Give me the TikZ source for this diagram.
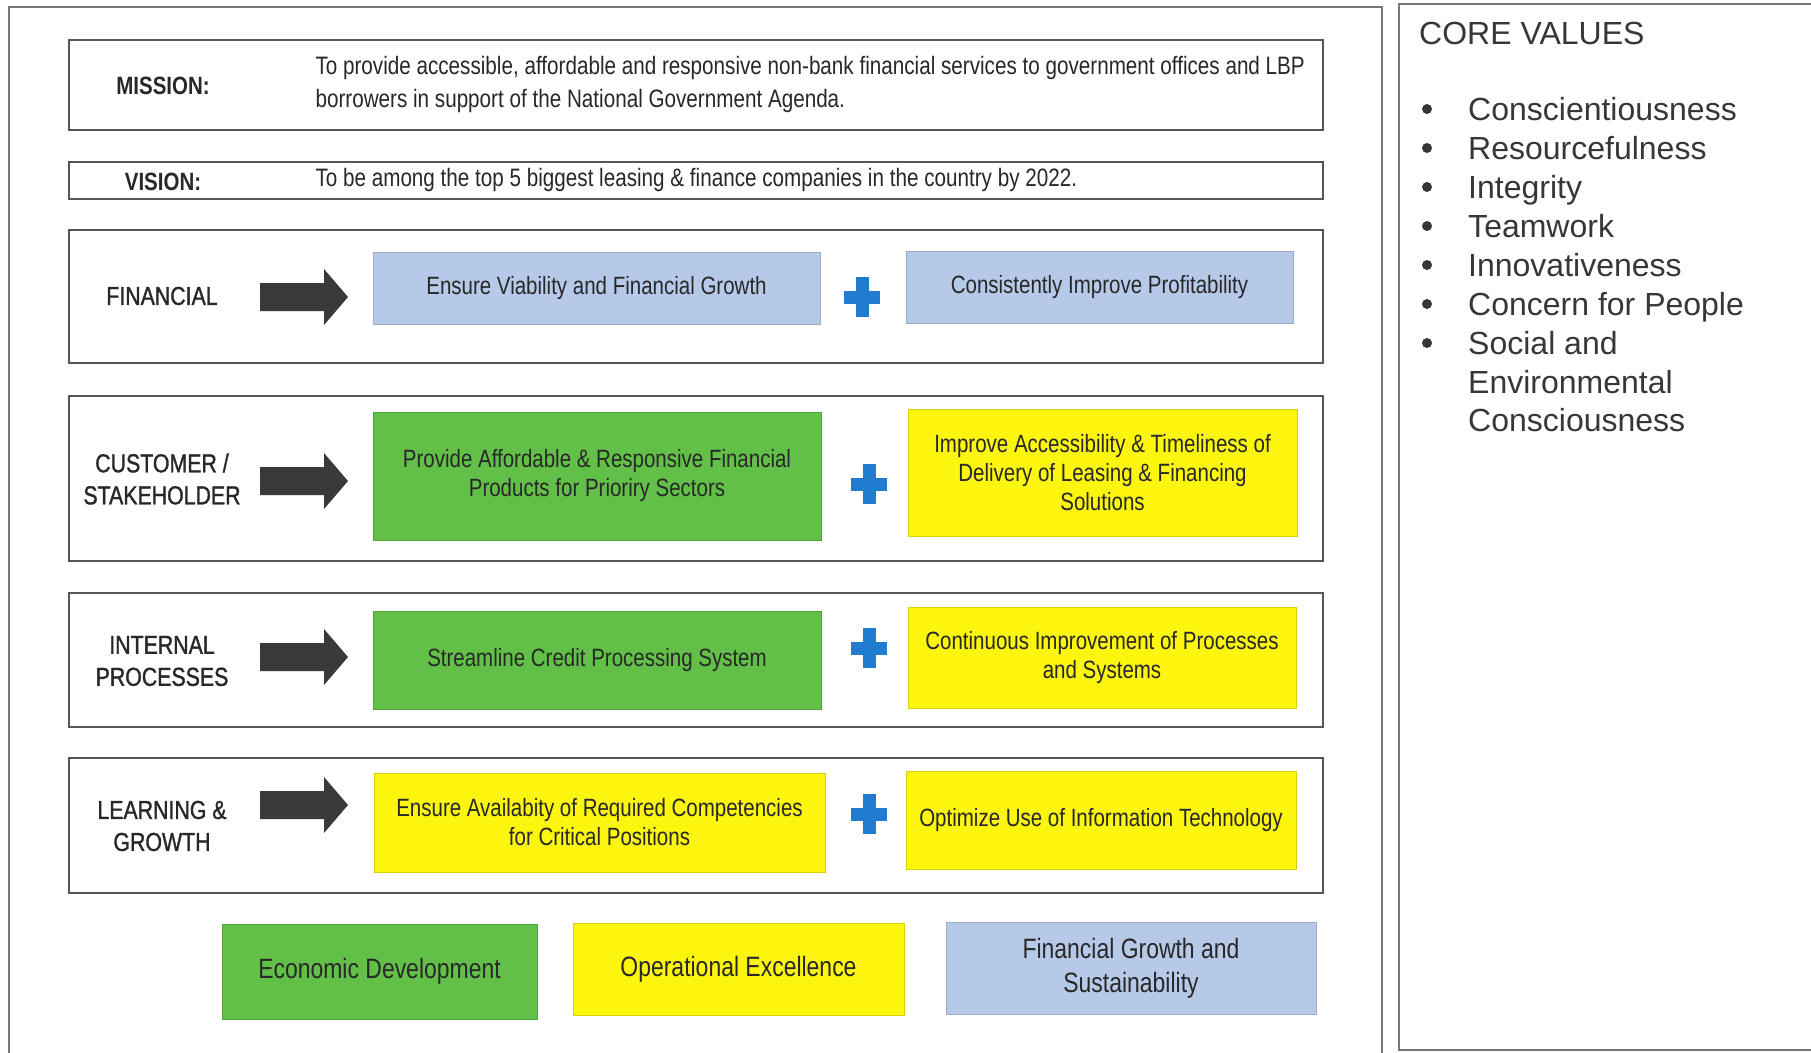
\documentclass[tikz,border=0pt]{standalone}
\usepackage{fontspec}
\setmainfont{Liberation Sans}
\newfontfamily\narrowsf[FakeStretch=0.82]{Liberation Sans}
\newfontfamily\narrowheavy[FakeStretch=0.82,FakeBold=1.2]{Liberation Sans}
\definecolor{lightblue}{RGB}{183,201,233}
\definecolor{goalgreen}{RGB}{98,192,72}
\definecolor{goalyellow}{RGB}{252,246,14}
\definecolor{plusblue}{RGB}{32,124,206}
\definecolor{arrowgray}{RGB}{58,58,58}
\definecolor{framegray}{RGB}{85,85,85}
\definecolor{inkgray}{RGB}{40,40,40}
\definecolor{valuegray}{RGB}{55,55,55}
\definecolor{panelgray}{RGB}{120,120,120}

\tikzset{
  rowframe/.style={draw=framegray, line width=1.6pt, fill=white, anchor=north west, inner sep=0pt, outer sep=0pt},
  goalbox/.style={draw=#1!85!black, line width=0.6pt, fill=#1, anchor=north west, inner sep=0pt, outer sep=0pt},
  goaltext/.style={text=inkgray, align=center, font=\narrowsf\fontsize{25}{29}\selectfont},
  perspective/.style={text=inkgray, align=center, font=\narrowheavy\fontsize{26}{32}\selectfont},
  headlabel/.style={text=inkgray, font=\narrowsf\bfseries\fontsize{25}{30}\selectfont},
  bodytext/.style={text=inkgray, align=left, anchor=west, font=\narrowsf\fontsize{25.2}{33}\selectfont},
  themetext/.style={text=inkgray, align=center, font=\narrowsf\fontsize{28}{34}\selectfont},
  valuetext/.style={text=valuegray, anchor=base west, inner sep=0pt, font=\fontsize{32}{38}\selectfont},
}

% thick block arrow pointing right, centred on height #1
\newcommand{\rowarrow}[1]{%
  \fill[arrowgray] (260,#1-14) -- (324,#1-14) -- (324,#1-28) -- (348,#1)
    -- (324,#1+28) -- (324,#1+14) -- (260,#1+14) -- cycle;}
% blue plus sign centred at (#1,#2)
\newcommand{\plussign}[2]{%
  \fill[plusblue] (#1-6.5,#2-20) rectangle (#1+6.5,#2+20);
  \fill[plusblue] (#1-18,#2-6.5) rectangle (#1+18,#2+6.5);}

\begin{document}
\begin{tikzpicture}[x=1pt,y=-1pt]
\useasboundingbox (0,0) rectangle (1811,1052);
\fill[white] (0,0) rectangle (1811,1052);

% outer frames
\draw[panelgray, line width=1.4pt] (9,7) rectangle (1382,1060);
\draw[panelgray, line width=1.4pt] (1399,4) rectangle (1830,1050);

% mission
\node[rowframe, minimum width=1254pt, minimum height=90pt] (mission) at (69,40) {};
\draw[framegray, line width=2.4pt] (mission.south west) -- (mission.south east);
\node[headlabel] (missionlbl) at (163,86) {MISSION:};
\node[bodytext] (missiontxt) at (312,84) {To provide accessible, affordable and responsive non-bank financial services to government offices and LBP\\borrowers in support of the National Government Agenda.};

% vision
\node[rowframe, minimum width=1254pt, minimum height=37pt] (vision) at (69,162) {};
\draw[framegray, line width=2.4pt] (vision.south west) -- (vision.south east);
\node[headlabel] (visionlbl) at (163,182) {VISION:};
\node[bodytext] (visiontxt) at (312,180) {To be among the top 5 biggest leasing \& finance companies in the country by 2022.};

% perspective rows
\node[rowframe, minimum width=1254pt, minimum height=133pt] (finrow) at (69,230) {};
\node[rowframe, minimum width=1254pt, minimum height=165pt] (custrow) at (69,396) {};
\node[rowframe, minimum width=1254pt, minimum height=134pt] (introw) at (69,593) {};
\node[rowframe, minimum width=1254pt, minimum height=135pt] (learnrow) at (69,758) {};
\foreach \r in {finrow,custrow,introw,learnrow}
  \draw[framegray, line width=2.4pt] (\r.south west) -- (\r.south east);

\node[perspective] (finlbl) at (162,296) {FINANCIAL};
\node[perspective] (custlbl) at (162,479) {CUSTOMER /\\STAKEHOLDER};
\node[perspective] (intlbl) at (162,661) {INTERNAL\\PROCESSES};
\node[perspective] (learnlbl) at (162,826) {LEARNING \&\\GROWTH};

\rowarrow{297}
\rowarrow{481}
\rowarrow{657}
\rowarrow{805}

% objectives
\node[goalbox=lightblue, minimum width=447pt, minimum height=72pt] (f1) at (373,252) {};
\node[goaltext] at (f1.center) {Ensure Viability and Financial Growth};
\node[goalbox=lightblue, minimum width=387pt, minimum height=72pt] (f2) at (906,251) {};
\node[goaltext] at (f2.center) {Consistently Improve Profitability};

\node[goalbox=goalgreen, minimum width=448pt, minimum height=128pt] (c1) at (373,412) {};
\node[goaltext] at (c1.center) {Provide Affordable \& Responsive Financial\\Products for Prioriry Sectors};
\node[goalbox=goalyellow, minimum width=389pt, minimum height=127pt] (c2) at (908,409) {};
\node[goaltext] at (c2.center) {Improve Accessibility \& Timeliness of\\Delivery of Leasing \& Financing\\Solutions};

\node[goalbox=goalgreen, minimum width=448pt, minimum height=98pt] (i1) at (373,611) {};
\node[goaltext] at (i1.center) {Streamline Credit Processing System};
\node[goalbox=goalyellow, minimum width=388pt, minimum height=101pt] (i2) at (908,607) {};
\node[goaltext] at (i2.center) {Continuous Improvement of Processes\\and Systems};

\node[goalbox=goalyellow, minimum width=451pt, minimum height=99pt] (l1) at (374,773) {};
\node[goaltext] at (l1.center) {Ensure Availabity of Required Competencies\\for Critical Positions};
\node[goalbox=goalyellow, minimum width=390pt, minimum height=98pt] (l2) at (906,771) {};
\node[goaltext] at (l2.center) {Optimize Use of Information Technology};

\plussign{862}{297}
\plussign{869}{484}
\plussign{869}{648}
\plussign{869}{814}

% strategic themes
\node[goalbox=goalgreen, minimum width=315pt, minimum height=95pt] (econ) at (222,924) {};
\node[themetext] at (econ.center) {Economic Development};
\node[goalbox=goalyellow, minimum width=331pt, minimum height=92pt] (oper) at (573,923) {};
\node[themetext] at (oper.center) {Operational Excellence};
\node[goalbox=lightblue, minimum width=370pt, minimum height=92pt] (fgs) at (946,922) {};
\node[themetext] at (fgs.center) {Financial Growth and\\Sustainability};

% core values
\node[valuetext] (cvtitle) at (1419,44) {CORE VALUES};
\foreach \y/\v [count=\i] in {120/Conscientiousness, 159/Resourcefulness, 198/Integrity,
    237/Teamwork, 276/Innovativeness, 315/Concern for People, 354/Social and} {
  \fill[valuegray] (1427,\y-11) circle (5);
  \node[valuetext] (cv\i) at (1468,\y) {\v};
}
\node[valuetext] (cv8) at (1468,393) {Environmental};
\node[valuetext] (cv9) at (1468,431) {Consciousness};
\end{tikzpicture}
\end{document}
